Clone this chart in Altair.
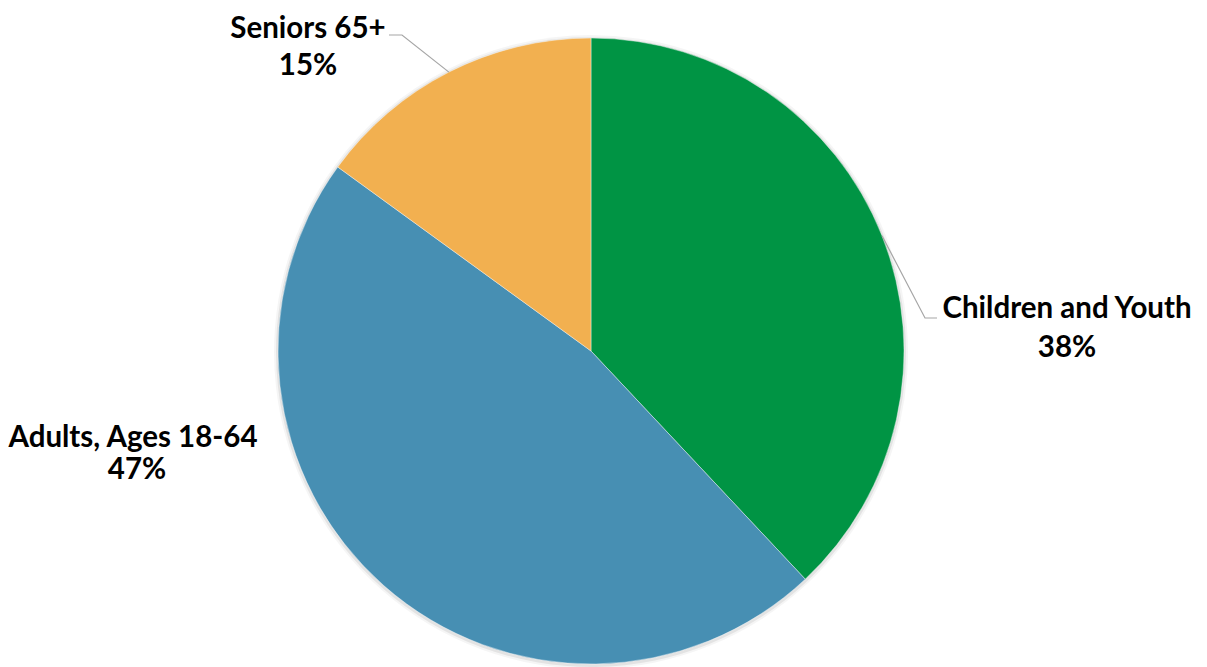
import math
import altair as alt
import pandas as pd

# ---- data ----
categories = ["Children and Youth", "Adults, Ages 18-64", "Seniors 65+"]
percent = [38, 47, 15]
colors = ["#009444", "#478FB3", "#F2B050"]

# ---- layout constants (chart pixel space) ----
W, H = 1191, 659
CX, CY, R = 583, 343, 313
FONT = "Lato"
FS = 29.5

df = pd.DataFrame({"cat": categories, "pct": percent, "order": range(len(categories))})
df["pct_label"] = df["pct"].astype(str) + "%"

# label anchor positions (text centre x, baseline y) per category
name_pos = {"Children and Youth": (1059, 310), "Adults, Ages 18-64": (125, 439), "Seniors 65+": (300, 30)}
pct_pos = {"Children and Youth": (1059, 349), "Adults, Ages 18-64": (129, 471), "Seniors 65+": (300, 67)}
df["nx"] = [name_pos[c][0] for c in df["cat"]]
df["ny"] = [name_pos[c][1] for c in df["cat"]]
df["px"] = [pct_pos[c][0] for c in df["cat"]]
df["py"] = [pct_pos[c][1] for c in df["cat"]]

# leader lines: start at slice mid-angle on the rim, elbow, end near label
total = sum(percent)
cum = 0
mids = {}
for c, v in zip(categories, percent):
    mids[c] = (cum + v / 2) / total * 2 * math.pi
    cum += v
elbows = {"Children and Youth": [(917, 310), (929, 310)], "Seniors 65+": [(394, 27), (381, 27)]}
rows = []
for c, pts in elbows.items():
    a = mids[c]
    sx, sy = CX + R * math.sin(a), CY - R * math.cos(a)
    for i, (x, y) in enumerate([(sx, sy)] + pts):
        rows.append({"cat": c, "i": i, "x": x, "y": y})
leaders = pd.DataFrame(rows)

color_scale = alt.Scale(domain=categories, range=colors)

base = alt.Chart(df)

shadow1 = base.mark_arc(radius=R + 4, color="#000000", opacity=0.04).encode(
    theta=alt.Theta("pct:Q", stack=True), order=alt.Order("order:Q"),
    x=alt.value(CX), y=alt.value(CY + 1))
shadow2 = base.mark_arc(radius=R + 2, color="#000000", opacity=0.07).encode(
    theta=alt.Theta("pct:Q", stack=True), order=alt.Order("order:Q"),
    x=alt.value(CX), y=alt.value(CY + 1))

pie = base.mark_arc(radius=R, stroke="#FFFFFF", strokeWidth=0.4).encode(
    theta=alt.Theta("pct:Q", stack=True),
    color=alt.Color("cat:N", scale=color_scale, legend=None),
    order=alt.Order("order:Q"),
    x=alt.value(CX), y=alt.value(CY),
)

lead = alt.Chart(leaders).mark_line(color="#A6A6A6", strokeWidth=1.2).encode(
    x=alt.X("x:Q", scale=None, axis=None),
    y=alt.Y("y:Q", scale=None, axis=None),
    detail="cat:N",
    order="i:Q",
)

names = base.mark_text(font=FONT, fontSize=FS, fontWeight="bold", color="#000000",
                       align="center", baseline="alphabetic").encode(
    x=alt.X("nx:Q", scale=None, axis=None),
    y=alt.Y("ny:Q", scale=None, axis=None),
    text="cat:N",
)
pcts = base.mark_text(font=FONT, fontSize=FS, fontWeight="bold", color="#000000",
                      align="center", baseline="alphabetic").encode(
    x=alt.X("px:Q", scale=None, axis=None),
    y=alt.Y("py:Q", scale=None, axis=None),
    text="pct_label:N",
)

chart = alt.layer(shadow1, shadow2, pie, lead, names, pcts).properties(
    width=W, height=H, autosize=alt.AutoSizeParams(type="none"), padding=0,
    view=alt.ViewBackground(stroke="transparent", strokeWidth=0, strokeOpacity=0),
).configure_view(strokeWidth=0, stroke="transparent", strokeOpacity=0).configure(background="#FFFFFF")

chart.save("out.html", embed_options={"renderer": "svg", "actions": False})
